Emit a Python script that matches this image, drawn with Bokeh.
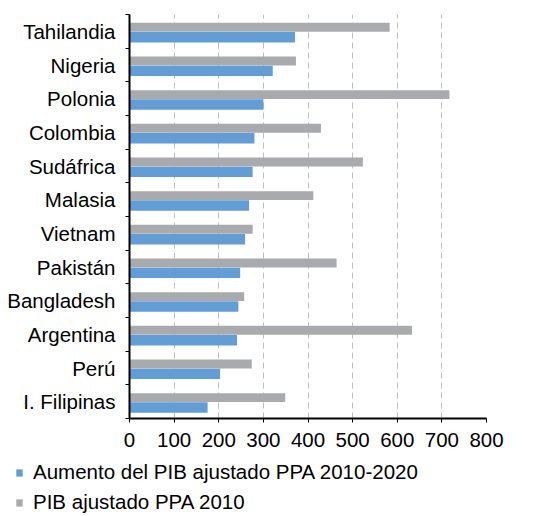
from bokeh.plotting import figure
from bokeh.layouts import column
from bokeh.models import FixedTicker, Legend, LegendItem, ColumnDataSource
from bokeh.embed import file_html
from bokeh.resources import INLINE

countries = ["Tahilandia", "Nigeria", "Polonia", "Colombia", "Sudáfrica", "Malasia",
             "Vietnam", "Pakistán", "Bangladesh", "Argentina", "Perú", "I. Filipinas"]
aumento = [371, 321, 300, 280, 276, 268, 259, 248, 244, 241, 203, 175]
pib2010 = [583, 373, 717, 429, 523, 412, 276, 464, 257, 633, 274, 349]
x_ticks = [0, 100, 200, 300, 400, 500, 600, 700, 800]
series_names = ["Aumento del PIB ajustado PPA 2010-2020", "PIB ajustado PPA 2010"]

BLUE = "#629DD6"
GRAY = "#A8AAAD"
FONT = "Liberation Sans"
FS = "20.5px"

n = len(countries)
# category centers: first country at top
centers = [n - i - 0.5 for i in range(n)]

src = ColumnDataSource(dict(
    y_blue=[c - 0.175 for c in centers],
    y_gray=[c + 0.12 for c in centers],
    aumento=aumento, pib=pib2010, country=countries))

p = figure(width=516, height=452, x_range=(0, 800), y_range=(0, n),
           output_backend="svg", toolbar_location=None,
           min_border_left=129, min_border_right=30, min_border_top=14, min_border_bottom=34)
p.frame_align = False
p.outline_line_color = None
p.background_fill_color = "white"

r_gray = p.hbar(y="y_gray", right="pib", left=0, height=0.265, source=src,
                fill_color=GRAY, line_color=None)
r_blue = p.hbar(y="y_blue", right="aumento", left=0, height=0.31, source=src,
                fill_color=BLUE, line_color=None)

# x axis
p.xaxis.ticker = FixedTicker(ticks=x_ticks)
p.xaxis.axis_line_color = "black"
p.xaxis.axis_line_width = 2
p.xaxis.major_tick_line_color = "black"
p.xaxis.major_tick_out = 4
p.xaxis.major_tick_in = 0
p.xaxis.minor_tick_line_color = None
p.xaxis.major_label_text_font = FONT
p.xaxis.major_label_text_font_size = FS
p.xaxis.major_label_text_color = "black"
p.xaxis.major_label_standoff = 10

# y axis: labels at centers, tick marks at boundaries
p.yaxis.ticker = FixedTicker(ticks=centers, minor_ticks=list(range(n + 1)))
p.yaxis.major_label_overrides = {c: name for c, name in zip(centers, countries)}
p.yaxis.axis_line_color = "black"
p.yaxis.axis_line_width = 2
p.yaxis.major_tick_line_color = None
p.yaxis.major_tick_out = 0
p.yaxis.major_tick_in = 0
p.yaxis.minor_tick_line_color = "black"
p.yaxis.minor_tick_out = 4
p.yaxis.minor_tick_in = 0
p.yaxis.major_label_text_font = FONT
p.yaxis.major_label_text_font_size = FS
p.yaxis.major_label_text_color = "black"
p.yaxis.major_label_standoff = 10

p.ygrid.grid_line_color = None
p.xgrid.ticker = FixedTicker(ticks=x_ticks)
p.xgrid.grid_line_color = "#BDBDBD"
p.xgrid.grid_line_dash = "6 4"
p.xgrid.grid_line_width = 1

# legend in its own small figure below (dummy renderers outside the view)
lg = figure(width=516, height=62, x_range=(0, 1), y_range=(0, 1),
            output_backend="svg", toolbar_location=None, min_border=0)
lg.frame_align = False
lg.axis.visible = False
lg.grid.visible = False
lg.outline_line_color = None
l_blue = lg.hbar(y=[-5], right=[1], left=0, height=0.1, fill_color=BLUE, line_color=None)
l_gray = lg.hbar(y=[-5], right=[1], left=0, height=0.1, fill_color=GRAY, line_color=None)
legend = Legend(items=[LegendItem(label=series_names[0], renderers=[l_blue]),
                       LegendItem(label=series_names[1], renderers=[l_gray])],
                location=(15, 0), orientation="vertical",
                padding=0, margin=0, spacing=6, border_line_color=None,
                background_fill_alpha=0, glyph_width=8, glyph_height=9,
                label_standoff=10, label_height=20,
                label_text_font=FONT, label_text_font_size=FS,
                label_text_color="black")
lg.add_layout(legend, "center")

layout = column(p, lg, spacing=0)
open("out.html", "w").write(file_html(layout, INLINE))
